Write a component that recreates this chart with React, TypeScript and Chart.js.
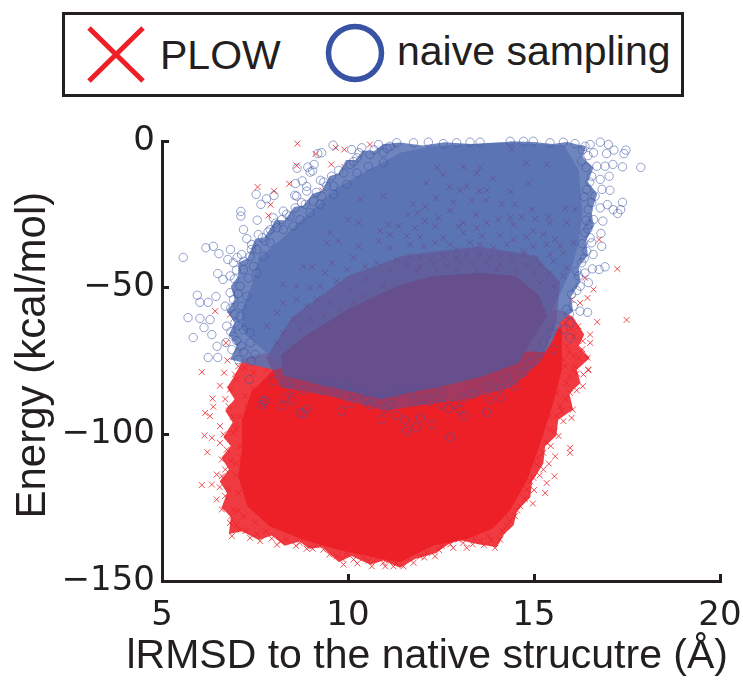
import React, { useEffect, useRef } from "react";
import { Chart, registerables } from "chart.js";

Chart.register(...registerables);

type P = [number, number];

const xTicks = [5, 10, 15, 20];
const yTicks = [0, -50, -100, -150];
const xTitle = "lRMSD to the native strucutre (Å)";
const yTitle = " Energy (kcal/mol)";
const plowLabel = "PLOW";
const naiveLabel = "naive sampling";

// Outlines of the saturated clouds and their fringes (data units).
const plowFringe: P[] = [[7.2,-74],[6.95,-80],[6.75,-84],[6.95,-88],[6.7,-92],[6.9,-96],[6.65,-101],[6.85,-104],[6.6,-108],[6.8,-112],[6.55,-116],[6.75,-120],[6.6,-125],[6.85,-128],[6.8,-134],[7.15,-133],[7.6,-136],[7.95,-134.5],[8.3,-138],[8.7,-136.5],[8.95,-139],[9.3,-138.5],[9.75,-143.5],[10.1,-141.5],[10.6,-144.5],[10.95,-143],[11.4,-145.5],[11.8,-142.5],[12.35,-140.5],[12.7,-137.5],[13,-136],[13.5,-137.5],[14,-138.5],[14.2,-134],[14.45,-131],[14.55,-126],[14.9,-121.5],[14.95,-116],[15.25,-110],[15.3,-104],[15.6,-100.5],[15.65,-95],[16.05,-91.5],[15.95,-86],[16.25,-82.5],[16.15,-78],[16.5,-74],[16.2,-70],[16.35,-66],[16.05,-60],[15.7,-57.5],[12,-60],[7.2,-74]];
const plowBody: P[] = [[8.3,-74],[7.4,-85.7],[7.15,-95],[7.15,-105.2],[7.05,-114.4],[7.3,-124.6],[7.9,-131.4],[8.8,-135.9],[9.78,-139.5],[10.94,-142.6],[11.4,-143.5],[12.3,-137.9],[13.2,-135.7],[13.9,-132],[14.35,-126],[14.8,-116],[15.15,-104],[15.5,-90],[15.75,-77.9],[15.75,-64.3],[12,-60],[8.3,-74]];
const naiveFringe: P[] = [[6.83,-74.5],[7,-70],[6.8,-66],[6.95,-62],[6.75,-58],[6.95,-54],[6.85,-49.5],[7.05,-46],[7.05,-41.5],[7.3,-40],[7.5,-33.5],[7.75,-33],[8.05,-27],[8.3,-27],[8.55,-22.5],[8.8,-22],[9.05,-18],[9.3,-17],[9.5,-12],[9.75,-11],[9.95,-6.5],[10.2,-6.5],[10.4,-3.2],[10.7,-3.5],[10.95,-1],[11.4,-0.5],[12,-1.5],[12.6,-0.4],[13.2,-0.9],[13.8,-1.2],[14.4,-0.1],[15,-0.3],[15.5,-1],[15.9,-0.3],[16.4,-2],[16.3,-5.5],[16.6,-9],[16.45,-14],[16.7,-18],[16.55,-24],[16.6,-29],[16.4,-34],[16.45,-39],[16.2,-43],[16.25,-48],[16,-53],[16.05,-58],[15.7,-62],[15.5,-68],[15.3,-72],[12,-70],[8,-78],[6.83,-74.5]];
const naiveBody: P[] = [[11.4,-4],[10.4,-11],[9.7,-16],[8.98,-24],[8.25,-33],[7.6,-40],[7.4,-49.6],[7.15,-57.5],[7.15,-64.3],[7.6,-70],[8.25,-77],[9.6,-80],[12,-78],[14.54,-72],[15.35,-61],[15.75,-50.7],[16,-43.8],[16.2,-34.7],[16.3,-24.5],[16.2,-9.7],[15.8,-1.5],[14.1,-0.4],[12.3,-1.8],[11.4,-4]];
const overlapFringe: P[] = [[7.8,-74],[8.5,-60],[10,-46],[11.5,-39],[13.5,-36],[15,-39],[15.7,-48],[15.6,-62],[15.2,-75],[14.4,-84],[13.2,-88],[12,-90],[11,-92],[9.5,-87],[8.2,-84],[7.8,-74]];
const overlapBody: P[] = [[8.2,-73],[8.9,-66],[10.05,-57],[11.4,-49],[12.3,-46],[13.6,-44.9],[14.5,-46],[15.15,-52.9],[15.35,-59.8],[14.9,-68.7],[14.6,-75.6],[13.63,-80.2],[12.74,-83],[11.4,-86.5],[10.94,-88],[9.6,-84],[8.25,-80],[8.2,-73]];

const plowPoints: P[] = [
  [8.64,-0.9],[9.13,-4.4],[9.67,-2.3],[9.9,-2.9],[10.59,-1.2],[11.27,-1.8],[9.55,-8],[8.62,-8.4],[9.9,-8.8],[8.42,-14.6],[7.57,-15.7],[8.01,-17.1],[9.31,-16.9],[7.92,-21.7],[7.86,-25.4],[6.43,-58],[7.26,-62.3],[6.83,-59.2],[6.72,-68.8],[6.76,-74.8],[6.07,-78.8],[6.67,-79],[6.96,-79.6],[7.1,-71.7],[7.32,-71.7],[7.55,-68.8],[7.05,-76.8],[7.23,-77.3],[7.46,-79],[7.64,-75.6],[7.82,-77.9],[8.09,-75.6],[8.26,-79],[8.53,-77.9],[8.8,-80.2],
  [16.75,-33.6],[17.24,-43.6],[17.49,-61],[16.7,-61.7],[16.6,-50.6],[16.44,-53.5],[16.24,-55.2],[16.37,-46.6],[16.01,-54],[16.51,-66],[16.31,-68.2],[16.51,-68.8],[16.44,-73.9],[16.46,-77.9],[16.33,-79.6],[16.1,-76.8],[16.06,-73.4],[16.19,-63.1],[15.79,-59.7],[16.06,-66.5],[15.88,-70],[15.79,-74.5],[15.97,-80.2],[15.7,-64.3],[15.61,-68.8],
  [16.31,-83.6],[16.46,-78.1],[16.15,-79.3],[16.04,-91.6],[16.01,-94.4],[15.97,-104.6],[15.97,-106.3],[15.57,-107.5],[15.55,-114.3],[15.34,-116.6],[15.3,-120],[14.97,-123.6],[15.25,-112],[15.66,-100.6],[15.79,-95.5],[15.7,-90.4],[15.97,-85.9],[15.88,-82.5],[16.06,-77.9],[15.84,-76.8],[15.61,-93.8],[15.43,-98.4],[15.34,-102.9],[15.25,-106.3],[15.07,-110.3],[14.98,-114.8],[14.81,-118.8],[14.63,-124.5],[14.49,-127.9],[14.27,-131.3],[14.09,-135.9],[13.95,-138.7],[13.77,-134.7],[13.55,-136.4],[13.19,-138.7],[12.97,-135.9],[12.83,-138.7],[12.52,-138.1],[12.34,-141.6],[12.12,-140.4],[11.76,-143.8],[11.49,-145],[11.94,-141.6],
  [6.56,-83.4],[7.01,-81.3],[6.83,-84.7],[6.36,-87.8],[6.38,-90.6],[6.16,-92.7],[6.29,-93.8],[6.79,-90.4],[6.56,-97.2],[6.14,-100.4],[6.34,-101.2],[6.56,-102.9],[6.22,-106.1],[6.61,-108.6],[6.47,-113.7],[6.07,-117.3],[6.34,-117.1],[6.61,-114.3],[6.47,-122.2],[6.61,-125.6],[6.83,-130.2],[6.88,-134.7],[7.37,-135.3],[7.64,-136.4],[8.09,-137.6],[8.35,-135.9],[8.89,-139],[7.1,-132.5],[6.92,-125.6],[6.79,-118.8],[6.74,-105.2],[6.92,-99.5],[7.1,-93.8],[7.23,-87],[7.46,-84.7],[9.88,-144.4],[10.15,-142.7],[10.64,-145],[11.22,-145],[10.41,-142.1],[9.34,-139.3],[9.7,-141.6],[10.95,-143.8],[9.97,-140.4],
  [7,-110],[7.05,-120],[7,-98],[7.1,-104],[7,-114],[7.2,-128],[7.5,-130],[7.8,-133],[8.4,-133],[8.7,-137],[9.2,-137],[10.3,-140],[10.8,-142],[11.1,-143],[12.7,-136],[13.4,-135.5],[13.7,-132],[14.2,-127],[14.6,-120],[14.9,-116],[15.1,-108],[15.4,-94],[15.6,-86],[7.3,-90],[7.4,-100],[7.15,-108],[7.05,-126],
  [6.7,-88],[6.9,-94],[6.65,-100],[6.85,-109],[6.7,-112],[6.55,-118],[6.7,-121],[6.85,-128],[7,-131],[7.25,-133],[7.55,-134],[7.95,-135.5],[8.2,-136.5],[8.6,-138],[9.05,-139],[9.5,-141],[9.85,-142.5],[10.25,-144],[10.55,-143],[11,-145],[11.3,-144],[11.6,-142],[12.05,-142],[12.45,-139.5],[12.75,-137.5],[13.1,-137],[13.35,-137.5],[13.65,-137.8],[13.85,-136],[14.15,-133],[14.35,-129.5],[14.55,-126],[14.75,-122],[15,-119],[15.15,-114],[15.4,-110],[15.45,-104],[15.55,-99],[15.75,-92],[15.85,-88],[16.15,-85],[16.2,-74],[16.3,-71],[15.95,-72],[16,-64],[15.85,-62]
];

const plowUnderNaive: P[] = [
  [14.4,-2.9],[14.79,-7.4],[15.34,-8],[14.85,-14.5],[14.37,-17.3],[13.89,-12.8],[13.55,-9.1],[13.1,-8.8],[13.46,-10.9],[12.56,-11.4],[12.39,-9.1],[12.1,-14.3],[12.73,-15.6],[13.19,-15.4],[13.53,-17.1],[13.73,-16.8],[13.01,-16.8],[12.37,-19.4],[11.74,-21.6],[12.07,-22.4],[12.83,-20.9],[13.33,-20.2],[13.71,-20.2],[14.13,-21.6],[14.49,-21.6],[15.84,-23],[16.1,-23.4],[14.94,-23.4],[13.44,-25.1],[12.74,-23.7],[12.43,-26.2],[12.07,-27.3],[11.62,-25.1],[11.87,-24.5],[13.1,-27.9],[13.73,-27.9],[14.04,-26.8],[14.36,-26.2],[14.67,-25.9],[15.03,-26.5],[15.39,-25.9],[15.88,-27.9],[14.45,-28.5],[15.43,-27.9],[13.46,-29.6],[12.97,-29.1],[12.34,-29.1],[11.8,-29.6],[14.98,-30.7],[15.25,-31.9],[14.79,-32.7],[14.09,-32.2],[13.6,-32.4],[13.1,-31.3],[12.56,-33],[11.94,-32.7],[11.58,-32.4],[15.57,-33.6],[16.06,-34.7],[14.45,-33.6],
  [11.67,-35.3],[12.03,-35.9],[12.34,-34.7],[12.74,-35.3],[12.92,-37],[13.28,-34.7],[13.55,-35.3],[13.91,-36.4],[14.27,-35.3],[14.72,-37.6],[14.98,-35.9],[15.34,-35.3],[15.7,-35.9],[11.67,-39.3],[11.94,-39.8],[12.21,-40.4],[12.56,-39.3],[12.92,-39.8],[13.19,-38.7],[13.55,-38.7],[13.82,-39.8],[14.09,-39.3],[14.36,-38.7],[14.72,-38.7],[15.07,-39.8],[15.43,-38.7],[15.79,-38.1],[11.58,-42.1],[11.94,-42.7],[12.3,-42.1],[12.65,-42.7],[13.01,-41.5],[13.37,-42.1],[13.73,-41.5],[14.09,-42.1],[14.45,-41],[14.81,-42.7],[15.16,-42.1],[15.52,-41],[15.88,-43.2],[11.85,-44.4],[12.39,-44.4],[12.92,-43.8],[13.46,-44.4],[14,-43.8],[14.54,-44.4],[14.98,-45],[15.43,-45],[15.79,-46.1],[15.16,-48.4],[15.52,-49.5],
  [10.95,-18.8],[10.33,-20],[10.01,-26.8],[10.28,-27.9],[11.09,-28.5],[11.36,-29],[9.52,-31.3],[10.86,-30.7],[11.13,-31.9],[9.74,-34.1],[9.43,-34.7],[10.28,-35.9],[10.82,-34.1],[11.13,-36.4],[10.15,-39.8],[8.8,-42.7],[9.03,-43],[8.26,-48.9],[8.62,-49.5],[8.98,-50],[9.38,-45],[9.56,-41.5],[9.97,-43.8],[10.46,-42.7],[10.77,-41.5],[11.13,-43.8],[11.31,-40.4],[9.25,-49.5],[9.7,-47.8],[10.06,-50.6],[10.5,-47.2],[10.95,-49.5],[8.26,-55.2],[8.62,-54],[8.89,-56.3],[9.16,-54],[9.52,-55.2],[8.09,-58.6],[8.53,-60.9],[8.98,-60.9],[9.34,-59.7],[9.79,-57.4],[7.82,-63.1],[8.26,-65.4],[8.71,-64.3],[8.09,-68.8],[8.53,-70],[8.98,-67.7],[10.41,-52.9],[10.95,-55.2],[11.13,-51.8],[10.15,-55.2]
];

const naivePoints: P[] = [
  [5.57,-39.7],[6.18,-36.4],[6.38,-35.9],[6.53,-38.4],[6.84,-37],[7.12,-24],[7.12,-25.6],[7.56,-27],[7.19,-30.2],[7.28,-33.3],[7.53,-18.2],[7.66,-21.6],[7.81,-19.7],[8.01,-18.6],[8.57,-18.5],[8.59,-14.5],[8.63,-9.3],[8.92,-8.9],[9.09,-8],[9.05,-10.2],[8.98,-10.6],[9.19,-4.3],[9.29,-4],[9.6,-1.4],[8.77,-13.6],[8.89,-15.5],[8.89,-17.1],[9.26,-13.4],[9.29,-18.8],
  [5.95,-52.6],[6.02,-55],[5.7,-60.2],[5.84,-67],[6.13,-63.6],[6.24,-73.8],[6.5,-73.8],[6.34,-66],[6.48,-70],[6.72,-68.7],[6.24,-55],[6.45,-53],[6.83,-51.7],[6.64,-47.2],[6.5,-45.2],[6.77,-40.4],[7.02,-39.7],[6.02,-60.5],[6.29,-60.9],
  [10.1,-2.9],[10.37,-2.3],[10.82,-1.2],[11.13,-1.8],[10.06,-8],[10.24,-5.7],[10.59,-4.6],[10.95,-4],[11.31,-0.6],[9.88,-10.9],[9.56,-12],[9.61,-15.4],[9.07,-20.5],[8.85,-21.6],[8.58,-22.8],[8.26,-23.9],[7.99,-26.2],[8.22,-26.8],[7.91,-30.2],[8.09,-29.6],[7.59,-31.9],[7.77,-34.1],[7.41,-35.3],[7.14,-38.7],[7.37,-39.3],[7.55,-37],[6.92,-41.5],[7.19,-43.8],[7.46,-42.7],[6.83,-46],[7.1,-49.5],[7.32,-46.7],[6.92,-54],[7.14,-56.3],[6.7,-56.3],[6.96,-62],[6.74,-63.1],[7.19,-64.3],[6.92,-66.5],[7.14,-69.9],[6.88,-71.1],[7.37,-68.8],[7.05,-74.5],[7.5,-72.8],[8.62,-18.8],[9.43,-15.4],[8.44,-25.6],[8.71,-26.8],[8.26,-30.2],[8.53,-29],[7.91,-34.7],[7.73,-39.3],[7.55,-45],[7.28,-52.9],[7.1,-59.7],[7.37,-65.4],[9.25,-21.6],[9.61,-18.2],[9.97,-14.8],[10.24,-10.9],[10.55,-8.6],[10.95,-7.4],[8.98,-24.5],
  [11.76,-0.6],[12.16,-0.4],[12.56,-0.9],[12.92,-0.6],[13.28,-0.4],[13.55,-0.4],[14.36,-0.1],[14.72,-0.1],[14.98,-0.1],[15.43,-0.6],[15.79,-0.4],[16.1,-0.9],[16.51,-1.2],[16.78,-0.4],[16.6,-4],[16.37,-1.8],[16.28,-6.9],[16.69,-8.6],[16.55,-12],[16.78,-13.1],[16.42,-16.5],[16.64,-18.8],[16.78,-22.8],[16.46,-23.4],[16.6,-26.8],[16.37,-31.3],[16.51,-33],[16.42,-37.6],[16.28,-41.5],[16.37,-45],[16.15,-44.4],[16.24,-49.5],[16.01,-52.3],[16.06,-56.3],[15.88,-57.4],[15.97,-62],[15.79,-64.3],[15.97,-67.1],[15.61,-63.1],[15.43,-65.4],[15.25,-68.8],
  [17.87,-9],[17.38,-8.8],[17.47,-3.1],[17.42,-4.3],[17.15,-3.1],[17,-1.2],[17.38,-20.9],[17.33,-23.4],[17.25,-24.7],[16.97,-21.7],[17.04,-16.8],[17.02,-12],[17.12,-8],[16.95,-4.3],[16.83,-16.5],[16.82,-35.9],[16.8,-31.5],[16.91,-42.9],[16.75,-43.8],[16.57,-43.6],[16.44,-58.4],[16.24,-58],[16.46,-48.3],[16.59,-38.7],[16.55,-34.7],[16.5,-28.5],[16.85,-27.3],[17.13,-23.4],[16.91,-8.6],
  [8.22,-90.2],[8.49,-88.4],[8.71,-92.5],[8.8,-93],[8.89,-91.5],[9.83,-92.1],[10.05,-89.5],[10.6,-90],[10.9,-95],[11.29,-93.5],[7.68,-89.8],[7.77,-88.5],[7.35,-81.3],[11.53,-95.2],[11.95,-94.4],[11.83,-97.7],[11.58,-98.9],[12.25,-96.7],[12.76,-101],[13.73,-92.5],[13.12,-93.8],[12.52,-89.8],[12.69,-91.2],[12.88,-89.8],[13,-91.5],[13.82,-88.1],[14.11,-87.5],[14.49,-83.6],[12.18,-88.7],[11.8,-88.7],
  [8.49,-84.7],[8.8,-85],[9.07,-83.6],[9.29,-84.7],[9.7,-85.3],[10.15,-85.9],[10.5,-88.1],[11,-91.3],[11.13,-89.8],[8,-81.9],[7.73,-88.7],[8.31,-87.6],[8.35,-82.5],[9.43,-82.5],[9.97,-83.6],[10.41,-85.9],[10.77,-87],[11.31,-85.9],[11.67,-85.9],[12.03,-88.1],[13.1,-87.6],[13.37,-86.4],[13.77,-83.6],[14.09,-84.2],[14.72,-78.8],[14.89,-75.6],[15.16,-72.2],[15.52,-71.1],[14.27,-80.8],[12.3,-85.3],[12.52,-85.9],
  [7,-44],[7.2,-41],[7.4,-37],[7.7,-33],[7.85,-31],[8.05,-28],[8.35,-25],[8.75,-21],[9.15,-17.5],[9.35,-14],[9.75,-10],[10.15,-7],[10.3,-4],[10.7,-3],[11.05,-2.5],[6.95,-47],[7.05,-52],[6.85,-57],[6.95,-59],[7.05,-63],[6.85,-65],[7,-68],[7.2,-72],[7.4,-75],
  [16.3,-3],[16.45,-5],[16.4,-9],[16.5,-14],[16.35,-19],[16.55,-21],[16.4,-27],[16.45,-30],[16.3,-35],[16.35,-40],[16.2,-46],[16.15,-51],[15.95,-59]
];

const toXY = (pts: P[]) => pts.map(([x, y]) => ({ x, y }));

const RED = "#ed2027";
const RED_SOFT = "rgba(237,32,39,0.88)";
const BLUE_FILL = "#5b74b4";
const BLUE_SOFT = "rgba(91,116,180,0.88)";
const PURPLE_FILL = "#664f8c";
const PURPLE_SOFT = "rgba(102,79,140,0.55)";
const INK = "#231f20";

// The x title is wider than the plot in the reference, which an axis title cannot be.
const xTitlePlugin = {
  id: "xTitleWide",
  afterDraw(chart: any) {
    const { ctx, scales } = chart;
    ctx.save();
    ctx.font = "41px 'Liberation Sans'";
    ctx.fillStyle = INK;
    ctx.textAlign = "right";
    ctx.textBaseline = "alphabetic";
    ctx.fillText(xTitle, scales.x.right + 8, 668);
    ctx.restore();
  },
};

export default function App() {
  const ref = useRef<HTMLCanvasElement>(null);
  useEffect(() => {
    const body = (label: string, pts: P[], color: string, order: number) => ({
      label,
      data: toXY(pts),
      showLine: true,
      fill: "shape",
      backgroundColor: color,
      borderColor: color,
      borderWidth: 0,
      pointRadius: 0,
      tension: 0,
      order,
    });
    const chart = new Chart(ref.current!, {
      type: "scatter",
      plugins: [xTitlePlugin],
      data: {
        datasets: [
          body("PLOW fringe", plowFringe, RED_SOFT, 70),
          body("PLOW cloud", plowBody, RED, 60),
          { label: plowLabel, data: toXY(plowPoints), pointStyle: "crossRot", pointRadius: 4.2, borderWidth: 1, borderColor: "rgba(237,32,39,0.8)", backgroundColor: "transparent", order: 50, clip: false },
          body("naive fringe", naiveFringe, BLUE_SOFT, 45),
          body("naive cloud", naiveBody, BLUE_FILL, 40),
          body("overlap fringe", overlapFringe, PURPLE_SOFT, 35),
          body("overlap", overlapBody, PURPLE_FILL, 30),
          { label: "PLOW under naive", data: toXY(plowUnderNaive), pointStyle: "crossRot", pointRadius: 4.2, borderWidth: 1, borderColor: "rgba(102,79,140,0.8)", backgroundColor: "transparent", order: 20 },
          { label: naiveLabel, data: toXY(naivePoints), pointStyle: "circle", pointRadius: 4.2, borderWidth: 1, borderColor: "rgba(62,86,166,0.55)", backgroundColor: "transparent", order: 10, clip: false },
        ] as any,
      },
      options: {
        responsive: false,
        animation: false,
        events: [],
        layout: { padding: { top: 141, right: 23, left: 0, bottom: 0 } },
        plugins: { legend: { display: false }, tooltip: { enabled: false } },
        scales: {
          x: {
            type: "linear",
            min: 5,
            max: 20,
            afterBuildTicks: (s: any) => { s.ticks = xTicks.map((value) => ({ value })); },
            afterFit: (s: any) => { s.height = 100; s.paddingLeft = 0; s.paddingRight = 0; },
            border: { display: true, color: INK, width: 3 },
            grid: { display: true, drawOnChartArea: false, drawTicks: true, tickLength: -7, tickColor: INK, tickWidth: 3 },
            ticks: { color: INK, font: { family: "DejaVu Sans", size: 34 }, padding: 22, maxRotation: 0, autoSkip: false },
          },
          y: {
            type: "linear",
            min: -150,
            max: 0,
            afterBuildTicks: (s: any) => { s.ticks = yTicks.map((value) => ({ value })); },
            afterFit: (s: any) => { s.width = 162; },
            border: { display: true, color: INK, width: 3 },
            grid: { display: true, drawOnChartArea: false, drawTicks: true, tickLength: -7, tickColor: INK, tickWidth: 3 },
            ticks: {
              color: INK,
              font: { family: "DejaVu Sans", size: 34 },
              padding: 14,
              autoSkip: false,
              callback: (v: any) => String(v).replace("-", "\u2212"),
            },
            title: { display: true, text: yTitle, color: INK, font: { family: "Liberation Sans", size: 42 }, padding: { top: 8, bottom: 0 } },
          },
        },
      } as any,
    });
    return () => chart.destroy();
  }, []);

  return (
    <div style={{ position: "absolute", left: 0, top: 0, width: 743, height: 681, background: "#fff", overflow: "hidden" }}>
      <canvas ref={ref} width={743} height={681} style={{ display: "block", position: "absolute", left: 0, top: 0 }} />
      <div style={{ position: "absolute", left: 62, top: 12, width: 616, height: 79, border: "3px solid " + INK, background: "#fff", fontFamily: "Liberation Sans", fontSize: 41, color: INK }}>
        <svg width={616} height={79} style={{ position: "absolute", left: 0, top: 0 }}>
          <path d="M24 13 L78 66 M78 13 L24 66" stroke={RED} strokeWidth={5} fill="none" />
          <circle cx={290} cy={38} r={26.5} stroke="#3953a4" strokeWidth={5.5} fill="none" />
        </svg>
        <span style={{ position: "absolute", left: 95, top: 17, lineHeight: "47px" }}>{plowLabel}</span>
        <span style={{ position: "absolute", left: 332, top: 13, lineHeight: "47px" }}>{naiveLabel}</span>
      </div>
    </div>
  );
}
